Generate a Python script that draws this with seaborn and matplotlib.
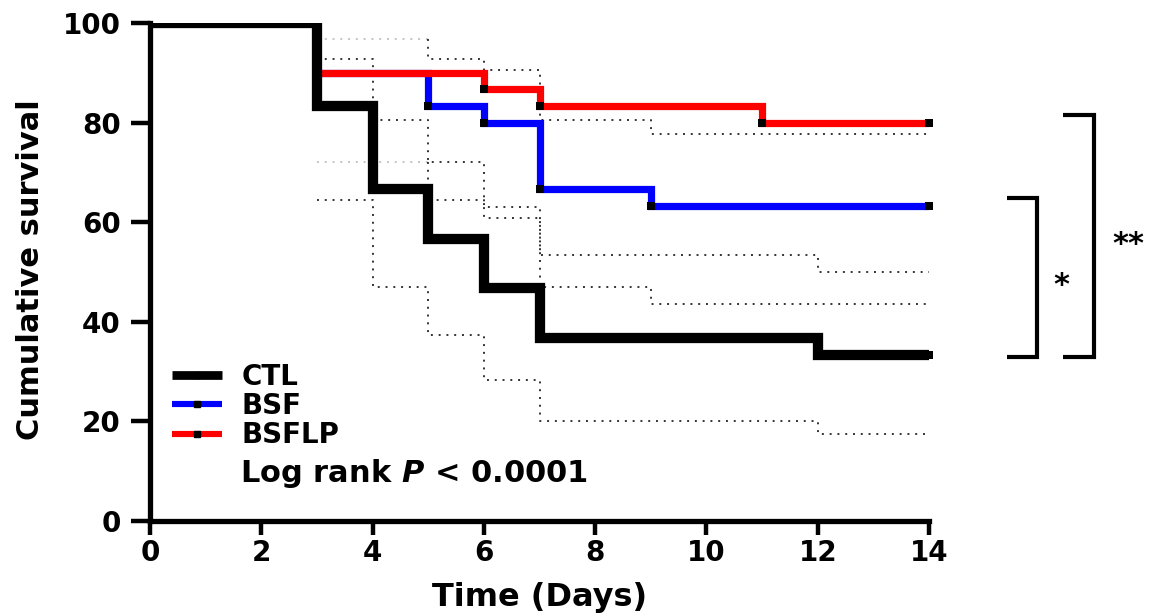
import numpy as np
import pandas as pd
import matplotlib
matplotlib.use("Agg")
import matplotlib.pyplot as plt
from matplotlib.lines import Line2D
import seaborn as sns

# Kaplan-Meier survival estimates (%), step values starting at each event day
groups = ["CTL", "BSF", "BSFLP"]
colors = ["#000000", "#0000ff", "#ff0000"]
line_widths = [7.4, 5.2, 5.2]

ctl_days = [0, 3, 4, 5, 6, 7, 12, 14]
ctl_surv = [100, 83.3, 66.7, 56.7, 46.7, 36.7, 33.3, 33.3]

bsf_days = [0, 3, 5, 6, 7, 9, 14]
bsf_surv = [100, 90.0, 83.3, 80.0, 66.7, 63.3, 63.3]

bsflp_days = [0, 3, 6, 7, 11, 14]
bsflp_surv = [100, 90.0, 86.7, 83.3, 80.0, 80.0]

# 95% confidence bands (%)
ctl_ci_days = [3, 4, 5, 6, 7, 12, 14]
ctl_ci_upper = [92.7, 80.5, 72.1, 63.0, 53.4, 50.0, 50.0]
ctl_ci_lower = [64.5, 46.9, 37.3, 28.4, 20.1, 17.5, 17.5]

# BSF band after day 5 (before that it coincides with BSFLP)
bsf_ci_days = [5, 5, 6, 7, 9, 14]
bsf_ci_upper = [96.7, 92.7, 90.5, 80.5, 77.7, 77.7]
bsf_ci_lower = [72.1, 64.5, 60.8, 46.9, 43.6, 43.6]

# shared band of BSF and BSFLP between days 3 and 5
shared_ci_days = [3, 5]
shared_ci_upper = [96.7, 96.7]
shared_ci_lower = [72.1, 72.1]

# pairwise comparisons against CTL
comparisons = ["BSF", "BSFLP"]
comparison_marks = ["*", "**"]

x_ticks = [0, 2, 4, 6, 8, 10, 12, 14]
y_ticks = [0, 20, 40, 60, 80, 100]

sns.set_theme(style="ticks")
plt.rcParams["font.family"] = ["DejaVu Sans"]
plt.rcParams["font.weight"] = "bold"
plt.rcParams["text.color"] = "black"
plt.rcParams["mathtext.fontset"] = "custom"
plt.rcParams["mathtext.it"] = "DejaVu Sans:bold:italic"
plt.rcParams["mathtext.rm"] = "DejaVu Sans:bold"

W, H = 1157, 614
fig = plt.figure(figsize=(W / 100, H / 100), dpi=100)
ax = fig.add_axes([150 / W, 1 - 521 / H, (929 - 150) / W, (521 - 23) / H])

dot_style = (0, (1, 3.0))
dark_dot = "#333333"
light_dot = "#c4c4c4"


def band(days, values, color):
    sns.lineplot(x=days, y=values, ax=ax, color=color, lw=1.4,
                 linestyle=dot_style, drawstyle="steps-post",
                 estimator=None, sort=False, clip_on=False, zorder=2)


band(shared_ci_days, shared_ci_upper, light_dot)
band(shared_ci_days, shared_ci_lower, light_dot)
band(ctl_ci_days, ctl_ci_upper, dark_dot)
band(ctl_ci_days, ctl_ci_lower, dark_dot)
band(bsf_ci_days, bsf_ci_upper, dark_dot)
band(bsf_ci_days, bsf_ci_lower, dark_dot)

curves = {
    "CTL": (ctl_days, ctl_surv),
    "BSF": (bsf_days, bsf_surv),
    "BSFLP": (bsflp_days, bsflp_surv),
}
draw_order = ["BSF", "BSFLP", "CTL"]
for z, g in enumerate(draw_order):
    i = groups.index(g)
    d, s = curves[g]
    sns.lineplot(x=d, y=s, ax=ax, color=colors[i], lw=line_widths[i],
                 drawstyle="steps-post", estimator=None, sort=False,
                 clip_on=True, solid_capstyle="butt",
                 solid_joinstyle="miter", zorder=3 + 2 * z)
    # symbols at each event and at the end of follow-up
    first = 1 if g == "CTL" else 2
    sns.scatterplot(x=d[first:], y=s[first:], ax=ax, marker="s", s=28,
                    color="black", edgecolor="black", linewidth=0,
                    clip_on=False, zorder=4 + 2 * z)

ax.set_xlim(0, 14)
ax.set_ylim(0, 100)
ax.set_xticks(x_ticks)
ax.set_yticks(y_ticks)
ax.tick_params(axis="both", which="major", width=3.2, labelsize=20,
               color="black", labelcolor="black")
ax.tick_params(axis="y", length=14, pad=7)
ax.tick_params(axis="x", length=10, pad=3)
for lab in ax.get_xticklabels() + ax.get_yticklabels():
    lab.set_fontweight("bold")
for side in ["top", "right"]:
    ax.spines[side].set_visible(False)
for side in ["left", "bottom"]:
    ax.spines[side].set_linewidth(3.8)
    ax.spines[side].set_color("black")
    ax.spines[side].set_capstyle("projecting")

ax.set_xlabel("Time (Days)", fontsize=23, fontweight="bold", color="black")
ax.set_ylabel("Cumulative survival", fontsize=22, fontweight="bold", color="black")
ax.xaxis.set_label_coords(0.5, (521 - 582) / 498)
ax.yaxis.set_label_coords((45 - 150) / 779, (521 - 270) / 498)

handles = [Line2D([], [], color=colors[i], lw=line_widths[i] * 0.85, marker="s",
                  markersize=4.5, markerfacecolor="black", markeredgecolor="black",
                  solid_capstyle="butt")
           for i in range(len(groups))]
leg = ax.legend(handles, groups, loc="upper left",
                bbox_to_anchor=((172 - 150) / 779, (521 - 363) / 498),
                frameon=False, prop={"size": 20, "weight": "bold"},
                handlelength=1.8, handletextpad=0.7, labelspacing=0.04,
                borderaxespad=0, borderpad=0)
for t in leg.get_texts():
    t.set_color("black")

ax.text((240 - 150) / 779, (521 - 474) / 498, "Log rank $P$ < 0.0001",
        transform=ax.transAxes, fontsize=22, fontweight="bold",
        ha="left", va="center", color="black")

# significance brackets to the right of the curves
ctl_end = ctl_surv[-1]
bracket_x = [(15.40, 15.94), (16.41, 16.97)]
for (x0, x1), g, mark in zip(bracket_x, comparisons, comparison_marks):
    top = curves[g][1][-1] + 1.6
    bottom = ctl_end - 0.3
    ax.plot([x0, x1, x1, x0], [top, top, bottom, bottom], color="black",
            lw=3.0, clip_on=False, solid_joinstyle="miter",
            solid_capstyle="butt")
    ax.text(x1 + 0.43 + 0.18 * (len(mark) - 1), (top + bottom) / 2 - 1.7,
            mark, fontsize=22, fontweight="bold", ha="center", va="center",
            color="black", clip_on=False)

fig.savefig("out.png", dpi=100, facecolor="white")
